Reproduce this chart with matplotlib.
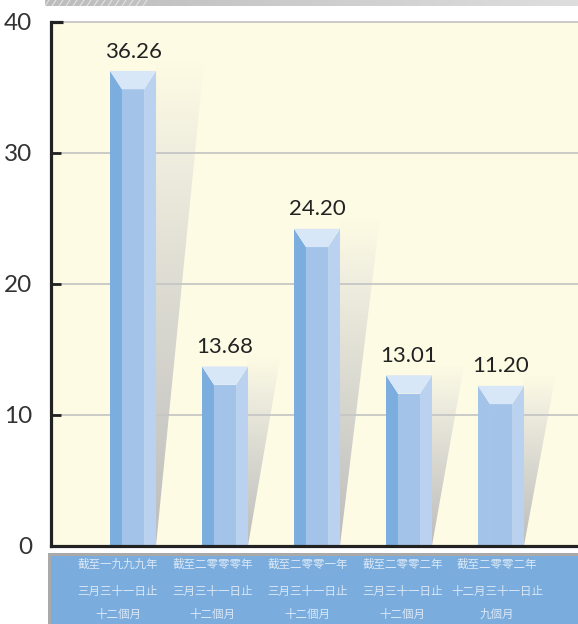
import matplotlib
matplotlib.use('Agg')
import matplotlib.pyplot as plt
import numpy as np
from matplotlib.patches import Polygon, Rectangle
from matplotlib.colors import LinearSegmentedColormap

# ---------------- data ----------------
category_lines = [
    ["截至一九九九年", "三月三十一日止", "十二個月"],
    ["截至二零零零年", "三月三十一日止", "十二個月"],
    ["截至二零零一年", "三月三十一日止", "十二個月"],
    ["截至二零零二年", "三月三十一日止", "十二個月"],
    ["截至二零零二年", "十二月三十一日止", "九個月"],
]
bar_heights = [36.26, 13.68, 24.20, 13.01, 12.2]
value_labels = ["36.26", "13.68", "24.20", "13.01", "11.20"]
yticks = [0, 10, 20, 30, 40]

# ---------------- figure ----------------
W, H = 578, 624
fig = plt.figure(figsize=(W / 100, H / 100), dpi=100)
fig.patch.set_facecolor('white')


def fx(px):
    return px / W


def fy(py):
    return 1 - py / H


ax_l, ax_r, ax_t, ax_b = 50.5, 578, 22, 545.5
ax = fig.add_axes([fx(ax_l), fy(ax_b), (ax_r - ax_l) / W, (ax_b - ax_t) / H])
bg = '#FEFBE4'
ax.set_facecolor(bg)

bw, ls, rs, cap = 0.5, 0.13, 0.13, 1.4
c_left, c_mid, c_right, c_cap = '#7BADDE', '#A3C3E8', '#BAD2EF', '#D8E7F7'
left_colors = [c_left, c_left, c_left, c_left, c_mid]
shadow_cmap = LinearSegmentedColormap.from_list(
    'sh', [(0.0, '#BDBDBD'), (0.45, '#D8D7CF'), (0.8, '#EFEDDE'), (1.0, bg)])

for i, h in enumerate(bar_heights):
    x0, x1 = i - bw / 2, i + bw / 2
    # shadow
    top = h + 0.75
    w = 0.25 + 0.0075 * h
    poly = Polygon([(x1 - 0.01, top), (x1 + w, top), (x1, 0)], closed=True,
                   transform=ax.transData, fc='none', ec='none')
    grad = np.linspace(0, 1, 256).reshape(-1, 1)
    im = ax.imshow(grad, extent=[x1 - 0.01, x1 + w, 0, top], origin='lower',
                   cmap=shadow_cmap, aspect='auto', zorder=0.3,
                   interpolation='bilinear')
    im.set_clip_path(poly)
    # prism faces
    faces = [
        ([(x0, 0), (x0, h), (x0 + ls, h - cap), (x0 + ls, 0)], left_colors[i]),
        ([(x0 + ls, 0), (x0 + ls, h - cap), (x1 - rs, h - cap), (x1 - rs, 0)], c_mid),
        ([(x1 - rs, 0), (x1 - rs, h - cap), (x1, h), (x1, 0)], c_right),
        ([(x0, h), (x1, h), (x1 - rs, h - cap), (x0 + ls, h - cap)], c_cap),
    ]
    for pts, col in faces:
        ax.add_patch(Polygon(pts, closed=True, fc=col, ec='none', zorder=2))
    ax.annotate(value_labels[i], (i, h), xytext=(0, 14), textcoords='offset points',
                ha='center', va='center', fontsize=16, color='#222222',
                family='Lato', zorder=3)

xl0 = -0.897
ax.set_xlim(xl0, 4.837)
ax.set_ylim(0, 40)

ax.set_axisbelow(True)
ax.yaxis.grid(True, color='#C6C6C6', lw=1.3)
for gl in ax.get_ygridlines():
    gl.set_clip_on(False)
ax.set_xticks([])
ax.set_yticks(yticks)
ax.set_yticklabels([str(t) for t in yticks], family='Lato', fontsize=17.5, color='#333333')
ax.tick_params(axis='y', direction='in', length=7, width=2, color='#222222', pad=13)
for s in ['top', 'right']:
    ax.spines[s].set_visible(False)
for s in ['left', 'bottom']:
    ax.spines[s].set_linewidth(2.3)
    ax.spines[s].set_color('#222222')
ax.plot([xl0, xl0 + 13 / 92], [40, 40], color='#222222', lw=2.3, clip_on=False,
        solid_capstyle='butt', zorder=4)

# ---------------- top decorative band ----------------
bax = fig.add_axes([fx(45), fy(6), (578 - 45) / W, 6 / H])
bax.axis('off')
bgrad = np.linspace(0, 1, 256).reshape(1, -1)
bax.imshow(bgrad, extent=[45, 578, 6, 0], aspect='auto',
           cmap=LinearSegmentedColormap.from_list('b', ['#BCBCBC', '#DEDEDE']))
for x in np.arange(45, 147, 7):
    bax.plot([x, x + 4], [6, 0], color='#E2E2E2', lw=0.8)
bax.set_xlim(45, 578)
bax.set_ylim(6, 0)

# ---------------- bottom label band ----------------
fig.add_artist(Rectangle((fx(48), 0), fx(578) - fx(48), (H - 553) / H,
                         transform=fig.transFigure, fc='#A9A9A9', ec='none'))
fig.add_artist(Rectangle((fx(51), 0), fx(578) - fx(51), (H - 556) / H,
                         transform=fig.transFigure, fc='#7AADDD', ec='none'))
line_y = [564, 591, 614]
for i, lines in enumerate(category_lines):
    cx = 118 + i * 94.8
    for ln, yy in zip(lines, line_y):
        fig.text(fx(cx), fy(yy), ln, ha='center', va='center', fontsize=8.3,
                 color='#DCE8F6', family=['Noto Sans CJK TC', 'DejaVu Sans'])

fig.savefig('out.png', dpi=100, facecolor='white')
